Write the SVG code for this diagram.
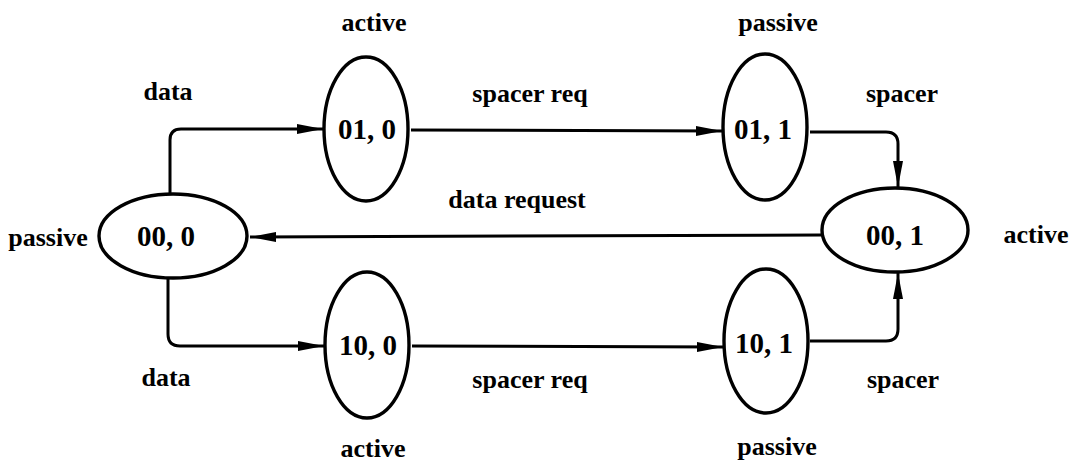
<svg xmlns="http://www.w3.org/2000/svg" width="1073" height="464" viewBox="0 0 1073 464">
<defs>
<style>
.node{fill:none;stroke:#000;stroke-width:3.4}
.conn{fill:none;stroke:#000;stroke-width:3}
.lbl{font-family:"Liberation Serif","Times New Roman",serif;font-weight:bold;font-size:26px;fill:#000;text-anchor:middle}
.st{font-family:"Liberation Serif","Times New Roman",serif;font-weight:bold;font-size:29px;fill:#000;text-anchor:middle}
</style>
<marker id="ah" markerUnits="userSpaceOnUse" markerWidth="28" markerHeight="14" refX="26" refY="7" orient="auto">
<path d="M0,2 L26,7 L0,12 z" fill="#000"/>
</marker>
</defs>
<rect width="1073" height="464" fill="#fff"/>
<g id="connectors">
<path class="conn" d="M170,193 L170,140 Q170,129 181,129 L323,129" marker-end="url(#ah)"/>
<path class="conn" d="M411,130 L722,131" marker-end="url(#ah)"/>
<path class="conn" d="M810,132 L886,132 Q898,132 898,144 L898,187" marker-end="url(#ah)"/>
<path class="conn" d="M821,235 L250,237" marker-end="url(#ah)"/>
<path class="conn" d="M168,279 L168,334 Q168,346 180,346 L324,346" marker-end="url(#ah)"/>
<path class="conn" d="M412,346 L723,347" marker-end="url(#ah)"/>
<path class="conn" d="M810,341 L886,341 Q898,341 898,329 L898,273" marker-end="url(#ah)"/>
</g>
<g id="n00_0">
<ellipse class="node" cx="173" cy="236" rx="74" ry="42"/>
<text class="st" x="166" y="246">00, 0</text>
</g>
<g id="n01_0">
<ellipse class="node" cx="366" cy="129" rx="42" ry="72"/>
<text class="st" x="367" y="139">01, 0</text>
</g>
<g id="n01_1">
<ellipse class="node" cx="765" cy="127" rx="42" ry="73"/>
<text class="st" x="763" y="139">01, 1</text>
</g>
<g id="n00_1">
<ellipse class="node" cx="895" cy="230" rx="73" ry="42"/>
<text class="st" x="895" y="245">00, 1</text>
</g>
<g id="n10_0">
<ellipse class="node" cx="367" cy="345" rx="42" ry="73"/>
<text class="st" x="368" y="355">10, 0</text>
</g>
<g id="n10_1">
<ellipse class="node" cx="766" cy="341" rx="42" ry="72"/>
<text class="st" x="764" y="353">10, 1</text>
</g>
<g id="labels">
<text class="lbl" x="48" y="246">passive</text>
<text class="lbl" x="1036" y="243">active</text>
<text class="lbl" x="374" y="31">active</text>
<text class="lbl" x="778" y="31">passive</text>
<text class="lbl" x="168" y="100">data</text>
<text class="lbl" x="530" y="102">spacer req</text>
<text class="lbl" x="902" y="102">spacer</text>
<text class="lbl" x="517" y="208">data request</text>
<text class="lbl" x="166" y="386">data</text>
<text class="lbl" x="530" y="388">spacer req</text>
<text class="lbl" x="903" y="388">spacer</text>
<text class="lbl" x="373" y="457">active</text>
<text class="lbl" x="777" y="455">passive</text>
</g>
</svg>
